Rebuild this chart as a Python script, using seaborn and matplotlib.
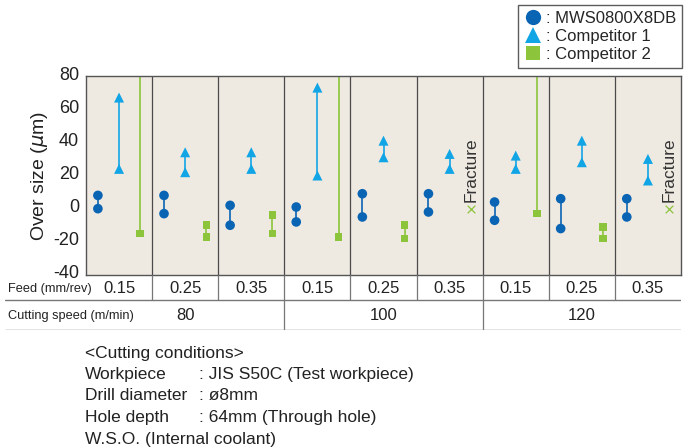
import numpy as np
import pandas as pd
import seaborn as sns
import matplotlib.pyplot as plt
import matplotlib.transforms as mtransforms
from matplotlib.lines import Line2D

# ---------------- data ----------------
feeds = ['0.15', '0.25', '0.35'] * 3
speeds = ['80', '100', '120']
series = ['MWS0800X8DB', 'Competitor 1', 'Competitor 2']

mws_hi = [8, 8, 2, 1, 9, 9, 4, 6, 6]
mws_lo = [0, -3, -10, -8, -5, -2, -7, -12, -5]
c1_hi = [67, 34, 34, 73, 41, 33, 32, 41, 30]
c1_lo = [24, 22, 24, 20, 31, 24, 24, 28, 17]
# None = over the top of the scale, nan = fracture
c2_hi = [None, -10, -4, None, -10, np.nan, None, -11, np.nan]
c2_lo = [-15, -17, -15, -17, -18, np.nan, -3, -18, np.nan]
fracture = [False, False, False, False, False, True, False, False, True]

colors = {'MWS0800X8DB': '#0a64b4', 'Competitor 1': '#12a5e6', 'Competitor 2': '#8cc43c'}
markers = {'MWS0800X8DB': 'o', 'Competitor 1': '^', 'Competitor 2': 's'}
offset = {'MWS0800X8DB': -0.32, 'Competitor 1': 0.0, 'Competitor 2': 0.32}
sizes = {'MWS0800X8DB': 48, 'Competitor 1': 52, 'Competitor 2': 30}

rows = []
for i in range(9):
    for s, hi, lo in [('MWS0800X8DB', mws_hi[i], mws_lo[i]),
                      ('Competitor 1', c1_hi[i], c1_lo[i]),
                      ('Competitor 2', c2_hi[i], c2_lo[i])]:
        for v in (hi, lo):
            if v is not None and not np.isnan(v):
                rows.append({'cond': i, 'x': i + offset[s], 'series': s, 'val': v})
df = pd.DataFrame(rows)

YTOP, YBOT = 80, -40

# ---------------- figure ----------------
sns.set_style('white')
plt.rcParams['font.family'] = ['Liberation Sans', 'DejaVu Sans']
plt.rcParams['axes.unicode_minus'] = False

fig = plt.figure(figsize=(6.89, 4.48), dpi=100)
W, H = 689, 448
ax = fig.add_axes([86 / W, 1 - 275 / H, (681 - 86) / W, (275 - 76) / H])
ax.set_facecolor('#eeeae1')

# connecting lines
for i in range(9):
    ax.vlines(i + offset['MWS0800X8DB'], mws_lo[i], mws_hi[i], color=colors['MWS0800X8DB'], lw=1.2, zorder=2)
    ax.vlines(i + offset['Competitor 1'], c1_lo[i], c1_hi[i], color=colors['Competitor 1'], lw=1.2, zorder=2)
    if not fracture[i]:
        top = YTOP + 5 if c2_hi[i] is None else c2_hi[i]
        ax.vlines(i + offset['Competitor 2'], c2_lo[i], top, color=colors['Competitor 2'], lw=1.2, zorder=2)
    else:
        ax.scatter(i + offset['Competitor 2'], 0, marker='x', s=30, color=colors['Competitor 2'], lw=0.9, zorder=3)
        ax.text(i + offset['Competitor 2'], 4, 'Fracture', rotation=90, ha='center', va='bottom',
                fontsize=12.5, color='#333333')

for s in series:
    sub = df[df['series'] == s]
    sns.scatterplot(data=sub, x='x', y='val', marker=markers[s], s=sizes[s], color=colors[s],
                    edgecolor='none', linewidth=0, ax=ax, zorder=4, legend=False)

for b in np.arange(0.5, 8.5, 1):
    ax.axvline(b, color='#4a4a4a', lw=0.9, zorder=1)

ax.set_xlim(-0.5, 8.5)
ax.set_ylim(YBOT, YTOP)
ax.set_yticks(range(-40, 81, 20))
ax.set_xticks([])
ax.set_xlabel('')
ax.set_ylabel('Over size ($\\mu$m)', fontsize=14, color='#222222', labelpad=2)
ax.tick_params(axis='y', labelsize=13, length=3, width=0.8, color='#666666', pad=2, labelcolor='#222222')
ax.tick_params(axis='x', length=0)
shift = mtransforms.ScaledTranslation(0, 3 / 100, fig.dpi_scale_trans)
for lab in ax.get_yticklabels():
    lab.set_transform(lab.get_transform() + shift)
for sp in ax.spines.values():
    sp.set_color('#555555')
    sp.set_linewidth(1.0)

# ---------------- table below ----------------
tx0 = 5
tax = fig.add_axes([tx0 / W, 1 - 330 / H, (681 - tx0) / W, (330 - 275) / H])
xl = -0.5 - (86 - tx0) / ((681 - 86) / 9)
tax.set_xlim(xl, 8.5)
tax.set_ylim(0, 2)
tax.axis('off')
tcol = '#777777'
tax.axhline(1.09, color=tcol, lw=1.0)
tax.axhline(0.0, color=tcol, lw=1.0)
for b in np.arange(0.5, 8.5, 1):
    tax.vlines(b, 1.09, 2, color=tcol, lw=0.9)
for b in (2.5, 5.5):
    tax.vlines(b, 0, 1.09, color=tcol, lw=0.9)
tax.text(xl + 0.04, 1.50, 'Feed (mm/rev)', ha='left', va='center', fontsize=9.2, color='#222222')
tax.text(xl + 0.04, 0.52, 'Cutting speed (m/min)', ha='left', va='center', fontsize=9.2, color='#222222')
for i, f in enumerate(feeds):
    tax.text(i, 1.52, f, ha='center', va='center', fontsize=12, color='#222222')
for j, sp_ in enumerate(speeds):
    tax.text(3 * j + 1, 0.52, sp_, ha='center', va='center', fontsize=12, color='#222222')

# ---------------- legend ----------------
handles = [Line2D([], [], ls='none', marker=markers[s], color=colors[s],
                  markersize=11 if s != 'Competitor 2' else 10, markeredgewidth=0) for s in series]
leg = fig.legend(handles, [': ' + s for s in series], loc='upper right',
                 bbox_to_anchor=(682 / W, 1 - 5 / H), fontsize=12, frameon=True, fancybox=False,
                 edgecolor='#333333', handlelength=1.0, handletextpad=0.3, borderpad=0.35,
                 labelspacing=0.18, borderaxespad=0)
leg.get_frame().set_linewidth(1.0)

# ---------------- cutting conditions ----------------
cond_labels = ['Workpiece', 'Drill diameter', 'Hole depth']
cond_values = [': JIS S50C (Test workpiece)', ': ø8mm', ': 64mm (Through hole)']
fs = 12.5
fig.text(85 / W, 1 - 353 / H, '<Cutting conditions>', fontsize=fs, va='center', color='#222222')
for k, (lab, val) in enumerate(zip(cond_labels, cond_values)):
    y = 1 - (374 + k * 21.7) / H
    fig.text(85 / W, y, lab, fontsize=fs, va='center', color='#222222')
    fig.text(199 / W, y, val, fontsize=fs, va='center', color='#222222')
fig.text(85 / W, 1 - 439 / H, 'W.S.O. (Internal coolant)', fontsize=fs, va='center', color='#222222')

fig.savefig('out.png', dpi=100)
